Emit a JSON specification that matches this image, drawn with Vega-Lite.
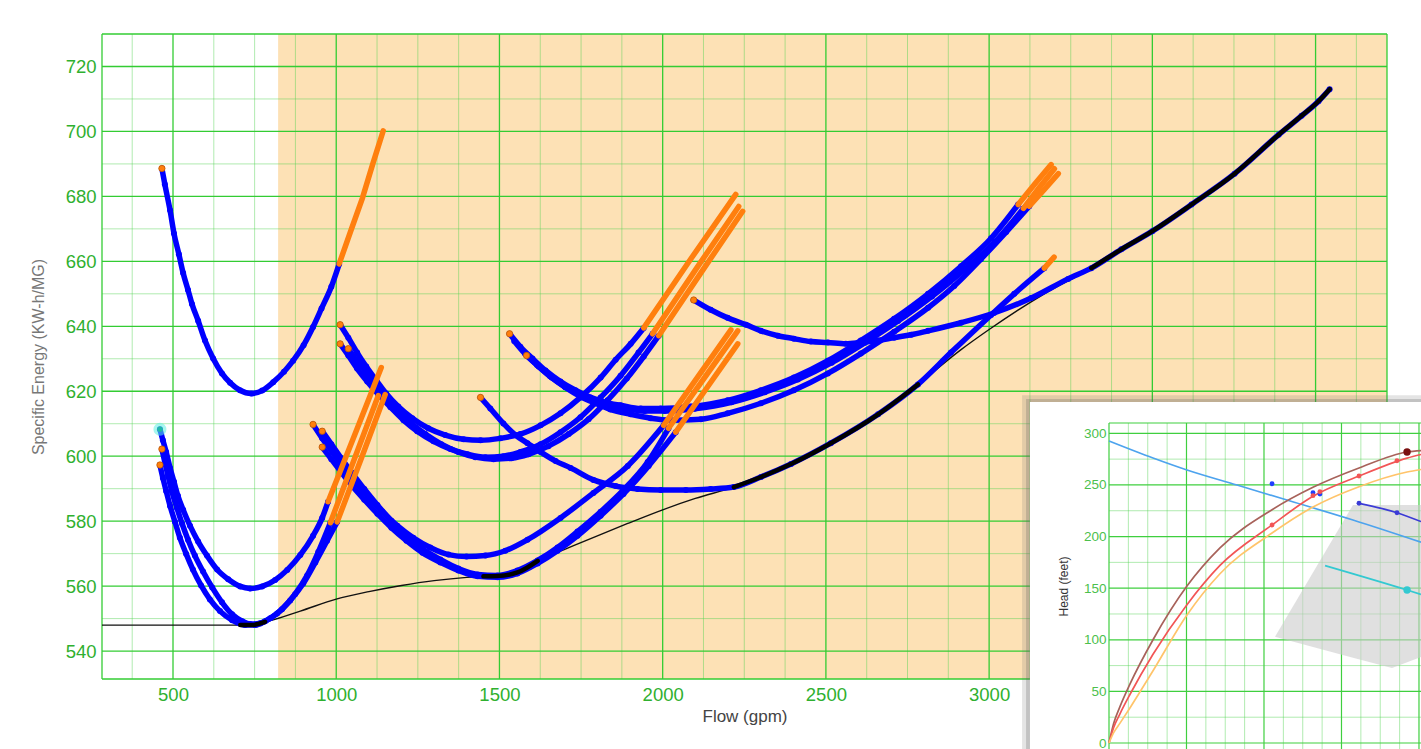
{
"$schema": "https://vega.github.io/schema/vega-lite/v6.json",
"width": 1285, "height": 645,
"autosize": {"type": "none"},
"padding": {"left": 102, "top": 34, "right": 34, "bottom": 70},
"background": "white",
"config": {"font": "Liberation Sans", "view": {"stroke": null}},
"datasets": {
"bg": [{"q": 822, "q2": 4218.8}],
"gxm": [{"q":375},{"q":625},{"q":750},{"q":875},{"q":1125},{"q":1250},{"q":1375},{"q":1625},{"q":1750},{"q":1875},{"q":2125},{"q":2250},{"q":2375},{"q":2625},{"q":2750},{"q":2875},{"q":3125},{"q":3250},{"q":3375},{"q":3625},{"q":3750},{"q":3875},{"q":4125}],
"gxM": [{"q":282.5},{"q":500},{"q":1000},{"q":1500},{"q":2000},{"q":2500},{"q":3000},{"q":3500},{"q":4000},{"q":4218.8}],
"gym": [{"e":550},{"e":570},{"e":590},{"e":610},{"e":630},{"e":650},{"e":670},{"e":690},{"e":710}],
"gyM": [{"e":531.4},{"e":540},{"e":560},{"e":580},{"e":600},{"e":620},{"e":640},{"e":660},{"e":680},{"e":700},{"e":720},{"e":730}],
"curves": [
{"c":"A","s":"b","q":466,"e":688.6},{"c":"A","s":"b","q":475,"e":683.7},{"c":"A","s":"b","q":491,"e":675.7},{"c":"A","s":"b","q":503,"e":668.6},{"c":"A","s":"b","q":518,"e":662.2},{"c":"A","s":"b","q":531,"e":656.4},{"c":"A","s":"b","q":546,"e":651.2},{"c":"A","s":"b","q":558,"e":646.9},{"c":"A","s":"b","q":577,"e":641.7},{"c":"A","s":"b","q":598,"e":635.6},{"c":"A","s":"b","q":623,"e":630.1},{"c":"A","s":"b","q":650,"e":625.5},{"c":"A","s":"b","q":675,"e":622.6},{"c":"A","s":"b","q":705,"e":620.3},{"c":"A","s":"b","q":740,"e":619.3},{"c":"A","s":"b","q":773,"e":620.2},{"c":"A","s":"b","q":807,"e":622.8},{"c":"A","s":"b","q":840,"e":626},{"c":"A","s":"b","q":868,"e":629.4},{"c":"A","s":"b","q":900,"e":634.2},{"c":"A","s":"b","q":929,"e":639.8},{"c":"A","s":"b","q":955,"e":645.5},{"c":"A","s":"b","q":985,"e":652.2},{"c":"A","s":"b","q":1009,"e":659.2},
{"c":"A","s":"o","q":1009,"e":659.2},{"c":"A","s":"o","q":1045,"e":669.5},{"c":"A","s":"o","q":1080,"e":679.4},{"c":"A","s":"o","q":1112,"e":690},{"c":"A","s":"o","q":1144,"e":700.2},
{"c":"B1","s":"b","q":460,"e":608.3},{"c":"B1","s":"b","q":469,"e":604.9},{"c":"B1","s":"b","q":479,"e":601.3},{"c":"B1","s":"b","q":491,"e":596.4},{"c":"B1","s":"b","q":503,"e":592.1},{"c":"B1","s":"b","q":515,"e":587.8},{"c":"B1","s":"b","q":531,"e":583.5},{"c":"B1","s":"b","q":552,"e":578.6},{"c":"B1","s":"b","q":577,"e":573.7},{"c":"B1","s":"b","q":604,"e":569.4},{"c":"B1","s":"b","q":635,"e":565.1},{"c":"B1","s":"b","q":669,"e":562.1},{"c":"B1","s":"b","q":706,"e":559.9},{"c":"B1","s":"b","q":736,"e":559.3},{"c":"B1","s":"b","q":773,"e":559.9},{"c":"B1","s":"b","q":813,"e":561.9},{"c":"B1","s":"b","q":850,"e":565},{"c":"B1","s":"b","q":890,"e":569.6},{"c":"B1","s":"b","q":929,"e":575.5},{"c":"B1","s":"b","q":957,"e":581},{"c":"B1","s":"b","q":975,"e":586},
{"c":"B1","s":"o","q":975,"e":586},{"c":"B1","s":"o","q":1057,"e":606.7},{"c":"B1","s":"o","q":1138,"e":627.3},
{"c":"B2","s":"b","q":466,"e":602.2},{"c":"B2","s":"b","q":475,"e":598.2},{"c":"B2","s":"b","q":485,"e":593.9},{"c":"B2","s":"b","q":497,"e":589},{"c":"B2","s":"b","q":512,"e":584.1},{"c":"B2","s":"b","q":528,"e":579.2},{"c":"B2","s":"b","q":546,"e":574.3},{"c":"B2","s":"b","q":567,"e":569.4},{"c":"B2","s":"b","q":592,"e":564.5},{"c":"B2","s":"b","q":620,"e":559.6},{"c":"B2","s":"b","q":650,"e":555},{"c":"B2","s":"b","q":681,"e":551.3},{"c":"B2","s":"b","q":712,"e":549.2},{"c":"B2","s":"b","q":736,"e":548.3},{"c":"B2","s":"b","q":767,"e":548.6},{"c":"B2","s":"b","q":798,"e":550.1},{"c":"B2","s":"b","q":834,"e":552.9},{"c":"B2","s":"b","q":874,"e":557.5},{"c":"B2","s":"b","q":911,"e":563.3},{"c":"B2","s":"b","q":945,"e":570.5},{"c":"B2","s":"b","q":982,"e":579.5},
{"c":"B2","s":"o","q":982,"e":579.5},{"c":"B2","s":"o","q":1055,"e":599},{"c":"B2","s":"o","q":1129,"e":618.7},
{"c":"B3","s":"b","q":460,"e":597.3},{"c":"B3","s":"b","q":469,"e":593.3},{"c":"B3","s":"b","q":479,"e":589.3},{"c":"B3","s":"b","q":491,"e":584.7},{"c":"B3","s":"b","q":506,"e":579.8},{"c":"B3","s":"b","q":521,"e":574.9},{"c":"B3","s":"b","q":540,"e":570},{"c":"B3","s":"b","q":561,"e":565.1},{"c":"B3","s":"b","q":586,"e":560.2},{"c":"B3","s":"b","q":613,"e":555.9},{"c":"B3","s":"b","q":644,"e":552.3},{"c":"B3","s":"b","q":681,"e":549.5},{"c":"B3","s":"b","q":721,"e":548},{"c":"B3","s":"b","q":752,"e":548},{"c":"B3","s":"b","q":782,"e":549.2},{"c":"B3","s":"b","q":819,"e":551.6},{"c":"B3","s":"b","q":859,"e":555.6},{"c":"B3","s":"b","q":899,"e":560.8},{"c":"B3","s":"b","q":936,"e":567.3},{"c":"B3","s":"b","q":972,"e":574},{"c":"B3","s":"b","q":1003,"e":579.8},
{"c":"B3","s":"o","q":1003,"e":579.8},{"c":"B3","s":"o","q":1077,"e":599.4},{"c":"B3","s":"o","q":1150,"e":619},
{"c":"C1","s":"b","q":1012,"e":640.5},{"c":"C1","s":"b","q":1037,"e":636.5},{"c":"C1","s":"b","q":1064,"e":631.9},{"c":"C1","s":"b","q":1092,"e":627.6},{"c":"C1","s":"b","q":1123,"e":623.3},{"c":"C1","s":"b","q":1153,"e":619.3},{"c":"C1","s":"b","q":1190,"e":615.3},{"c":"C1","s":"b","q":1233,"e":611.7},{"c":"C1","s":"b","q":1282,"e":608.6},{"c":"C1","s":"b","q":1334,"e":606.5},{"c":"C1","s":"b","q":1390,"e":605.2},{"c":"C1","s":"b","q":1442,"e":604.9},{"c":"C1","s":"b","q":1503,"e":605.5},{"c":"C1","s":"b","q":1564,"e":606.8},{"c":"C1","s":"b","q":1626,"e":609.5},{"c":"C1","s":"b","q":1687,"e":613.2},{"c":"C1","s":"b","q":1748,"e":618.1},{"c":"C1","s":"b","q":1810,"e":624.2},{"c":"C1","s":"b","q":1856,"e":629.7},{"c":"C1","s":"b","q":1902,"e":634.6},{"c":"C1","s":"b","q":1942,"e":639.5},
{"c":"C1","s":"o","q":1942,"e":639.5},{"c":"C1","s":"o","q":2086,"e":660.7},{"c":"C1","s":"o","q":2224,"e":680.6},
{"c":"C2","s":"b","q":1012,"e":634.6},{"c":"C2","s":"b","q":1037,"e":631},{"c":"C2","s":"b","q":1064,"e":627},{"c":"C2","s":"b","q":1095,"e":623},{"c":"C2","s":"b","q":1129,"e":619},{"c":"C2","s":"b","q":1166,"e":615.1},{"c":"C2","s":"b","q":1206,"e":611.1},{"c":"C2","s":"b","q":1248,"e":607.7},{"c":"C2","s":"b","q":1298,"e":604.6},{"c":"C2","s":"b","q":1350,"e":602.2},{"c":"C2","s":"b","q":1402,"e":600.6},{"c":"C2","s":"b","q":1457,"e":599.7},{"c":"C2","s":"b","q":1512,"e":600},{"c":"C2","s":"b","q":1564,"e":601.3},{"c":"C2","s":"b","q":1626,"e":603.7},{"c":"C2","s":"b","q":1687,"e":607.4},{"c":"C2","s":"b","q":1748,"e":612},{"c":"C2","s":"b","q":1810,"e":618.1},{"c":"C2","s":"b","q":1871,"e":624.8},{"c":"C2","s":"b","q":1926,"e":631.9},{"c":"C2","s":"b","q":1969,"e":637.7},
{"c":"C2","s":"o","q":1969,"e":637.7},{"c":"C2","s":"o","q":2100,"e":657.3},{"c":"C2","s":"o","q":2233,"e":676.9},
{"c":"C3","s":"b","q":1037,"e":633.1},{"c":"C3","s":"b","q":1061,"e":629.7},{"c":"C3","s":"b","q":1089,"e":626.1},{"c":"C3","s":"b","q":1120,"e":622.1},{"c":"C3","s":"b","q":1153,"e":618.1},{"c":"C3","s":"b","q":1190,"e":614.1},{"c":"C3","s":"b","q":1230,"e":610.1},{"c":"C3","s":"b","q":1273,"e":606.8},{"c":"C3","s":"b","q":1322,"e":603.7},{"c":"C3","s":"b","q":1374,"e":601.3},{"c":"C3","s":"b","q":1426,"e":599.7},{"c":"C3","s":"b","q":1482,"e":599.1},{"c":"C3","s":"b","q":1537,"e":599.4},{"c":"C3","s":"b","q":1589,"e":600.6},{"c":"C3","s":"b","q":1650,"e":603.1},{"c":"C3","s":"b","q":1712,"e":606.8},{"c":"C3","s":"b","q":1773,"e":611.4},{"c":"C3","s":"b","q":1831,"e":617.2},{"c":"C3","s":"b","q":1890,"e":623.9},{"c":"C3","s":"b","q":1942,"e":630.7},{"c":"C3","s":"b","q":1988,"e":637.1},
{"c":"C3","s":"o","q":1988,"e":637.1},{"c":"C3","s":"o","q":2116,"e":656.3},{"c":"C3","s":"o","q":2245,"e":675.4},
{"c":"D1","s":"b","q":929,"e":609.8},{"c":"D1","s":"b","q":957,"e":605.5},{"c":"D1","s":"b","q":988,"e":601.3},{"c":"D1","s":"b","q":1021,"e":596.7},{"c":"D1","s":"b","q":1058,"e":592.1},{"c":"D1","s":"b","q":1098,"e":587.5},{"c":"D1","s":"b","q":1141,"e":582.9},{"c":"D1","s":"b","q":1187,"e":578.6},{"c":"D1","s":"b","q":1236,"e":574.9},{"c":"D1","s":"b","q":1288,"e":571.9},{"c":"D1","s":"b","q":1344,"e":569.7},{"c":"D1","s":"b","q":1399,"e":569.1},{"c":"D1","s":"b","q":1457,"e":569.4},{"c":"D1","s":"b","q":1518,"e":570.9},{"c":"D1","s":"b","q":1586,"e":574.3},{"c":"D1","s":"b","q":1687,"e":581},{"c":"D1","s":"b","q":1788,"e":588.7},{"c":"D1","s":"b","q":1893,"e":597},{"c":"D1","s":"b","q":2003,"e":609.5},
{"c":"D1","s":"o","q":2003,"e":609.5},{"c":"D1","s":"o","q":2106,"e":624.2},{"c":"D1","s":"o","q":2209,"e":638.9},
{"c":"D2","s":"b","q":957,"e":607.7},{"c":"D2","s":"b","q":985,"e":603.7},{"c":"D2","s":"b","q":1015,"e":599.4},{"c":"D2","s":"b","q":1049,"e":594.8},{"c":"D2","s":"b","q":1086,"e":589.9},{"c":"D2","s":"b","q":1126,"e":585},{"c":"D2","s":"b","q":1169,"e":580.1},{"c":"D2","s":"b","q":1215,"e":575.5},{"c":"D2","s":"b","q":1264,"e":571.5},{"c":"D2","s":"b","q":1319,"e":568.2},{"c":"D2","s":"b","q":1374,"e":565.4},{"c":"D2","s":"b","q":1433,"e":563.6},{"c":"D2","s":"b","q":1494,"e":563.3},{"c":"D2","s":"b","q":1555,"e":564.8},{"c":"D2","s":"b","q":1617,"e":567.9},{"c":"D2","s":"b","q":1678,"e":571.9},{"c":"D2","s":"b","q":1739,"e":576.8},{"c":"D2","s":"b","q":1810,"e":582.9},{"c":"D2","s":"b","q":1880,"e":589.6},{"c":"D2","s":"b","q":1954,"e":598.2},{"c":"D2","s":"b","q":2018,"e":608.6},
{"c":"D2","s":"o","q":2018,"e":608.6},{"c":"D2","s":"o","q":2124,"e":623.6},{"c":"D2","s":"o","q":2230,"e":638.6},
{"c":"D3","s":"b","q":957,"e":602.8},{"c":"D3","s":"b","q":985,"e":599.1},{"c":"D3","s":"b","q":1015,"e":595.1},{"c":"D3","s":"b","q":1049,"e":590.8},{"c":"D3","s":"b","q":1086,"e":586.6},{"c":"D3","s":"b","q":1126,"e":582.3},{"c":"D3","s":"b","q":1169,"e":578},{"c":"D3","s":"b","q":1215,"e":574},{"c":"D3","s":"b","q":1264,"e":570.3},{"c":"D3","s":"b","q":1319,"e":567.3},{"c":"D3","s":"b","q":1374,"e":564.8},{"c":"D3","s":"b","q":1433,"e":563},{"c":"D3","s":"b","q":1494,"e":562.7},{"c":"D3","s":"b","q":1555,"e":563.9},{"c":"D3","s":"b","q":1617,"e":567},{"c":"D3","s":"b","q":1678,"e":570.9},{"c":"D3","s":"b","q":1739,"e":575.5},{"c":"D3","s":"b","q":1810,"e":581.7},{"c":"D3","s":"b","q":1880,"e":588.4},{"c":"D3","s":"b","q":1957,"e":597},{"c":"D3","s":"b","q":2040,"e":607.4},
{"c":"D3","s":"o","q":2040,"e":607.4},{"c":"D3","s":"o","q":2135,"e":621},{"c":"D3","s":"o","q":2230,"e":634.6},
{"c":"E1","s":"b","q":1531,"e":637.7},{"c":"E1","s":"b","q":1564,"e":633.7},{"c":"E1","s":"b","q":1601,"e":630.1},{"c":"E1","s":"b","q":1641,"e":626.4},{"c":"E1","s":"b","q":1687,"e":623},{"c":"E1","s":"b","q":1733,"e":620.3},{"c":"E1","s":"b","q":1779,"e":618.1},{"c":"E1","s":"b","q":1825,"e":616.6},{"c":"E1","s":"b","q":1871,"e":615.7},{"c":"E1","s":"b","q":1933,"e":614.7},{"c":"E1","s":"b","q":1994,"e":614.7},{"c":"E1","s":"b","q":2086,"e":615.3},{"c":"E1","s":"b","q":2199,"e":617.2},{"c":"E1","s":"b","q":2301,"e":620.3},{"c":"E1","s":"b","q":2402,"e":624.2},{"c":"E1","s":"b","q":2506,"e":629.4},{"c":"E1","s":"b","q":2607,"e":635.6},{"c":"E1","s":"b","q":2709,"e":642.3},{"c":"E1","s":"b","q":2813,"e":650},{"c":"E1","s":"b","q":2914,"e":658.5},{"c":"E1","s":"b","q":3006,"e":667.1},{"c":"E1","s":"b","q":3089,"e":677.5},
{"c":"E1","s":"o","q":3089,"e":677.5},{"c":"E1","s":"o","q":3138,"e":683.6},{"c":"E1","s":"o","q":3190,"e":689.8},
{"c":"E1b","s":"b","q":1545,"e":635.5},{"c":"E1b","s":"b","q":1578,"e":631.6},{"c":"E1b","s":"b","q":1615,"e":628.1},{"c":"E1b","s":"b","q":1655,"e":624.6},{"c":"E1b","s":"b","q":1700,"e":621.4},{"c":"E1b","s":"b","q":1746,"e":618.9},{"c":"E1b","s":"b","q":1792,"e":616.9},{"c":"E1b","s":"b","q":1838,"e":615.5},{"c":"E1b","s":"b","q":1884,"e":614.7},{"c":"E1b","s":"b","q":1945,"e":613.9},{"c":"E1b","s":"b","q":2006,"e":613.9},{"c":"E1b","s":"b","q":2098,"e":614.6},{"c":"E1b","s":"b","q":2211,"e":616.6},{"c":"E1b","s":"b","q":2313,"e":619.7},{"c":"E1b","s":"b","q":2414,"e":623.6},{"c":"E1b","s":"b","q":2518,"e":628.8},{"c":"E1b","s":"b","q":2619,"e":634.9},{"c":"E1b","s":"b","q":2721,"e":641.6},{"c":"E1b","s":"b","q":2825,"e":649.2},{"c":"E1b","s":"b","q":2926,"e":657.6},{"c":"E1b","s":"b","q":3018,"e":666},{"c":"E1b","s":"b","q":3105,"e":676.3},
{"c":"E1b","s":"o","q":3105,"e":676.3},{"c":"E1b","s":"o","q":3152,"e":682.5},{"c":"E1b","s":"o","q":3200,"e":688.5},
{"c":"E2","s":"b","q":1583,"e":631},{"c":"E2","s":"b","q":1620,"e":627.6},{"c":"E2","s":"b","q":1660,"e":624.2},{"c":"E2","s":"b","q":1702,"e":621.2},{"c":"E2","s":"b","q":1748,"e":618.4},{"c":"E2","s":"b","q":1794,"e":616.3},{"c":"E2","s":"b","q":1840,"e":614.4},{"c":"E2","s":"b","q":1902,"e":612.9},{"c":"E2","s":"b","q":1963,"e":611.7},{"c":"E2","s":"b","q":2025,"e":611.1},{"c":"E2","s":"b","q":2117,"e":611.4},{"c":"E2","s":"b","q":2199,"e":613.2},{"c":"E2","s":"b","q":2301,"e":616.3},{"c":"E2","s":"b","q":2402,"e":620.3},{"c":"E2","s":"b","q":2506,"e":625.5},{"c":"E2","s":"b","q":2607,"e":631.6},{"c":"E2","s":"b","q":2709,"e":638.3},{"c":"E2","s":"b","q":2813,"e":645.7},{"c":"E2","s":"b","q":2893,"e":652.4},{"c":"E2","s":"b","q":2975,"e":660.7},{"c":"E2","s":"b","q":3052,"e":669},{"c":"E2","s":"b","q":3123,"e":677},
{"c":"E2","s":"o","q":3123,"e":677},{"c":"E2","s":"o","q":3168,"e":682},{"c":"E2","s":"o","q":3212,"e":687},
{"c":"F","s":"b","q":1442,"e":618.1},{"c":"F","s":"b","q":1472,"e":614.7},{"c":"F","s":"b","q":1512,"e":610.1},{"c":"F","s":"b","q":1549,"e":606.5},{"c":"F","s":"b","q":1586,"e":604},{"c":"F","s":"b","q":1626,"e":601.3},{"c":"F","s":"b","q":1672,"e":598.5},{"c":"F","s":"b","q":1718,"e":596.4},{"c":"F","s":"b","q":1788,"e":592.7},{"c":"F","s":"b","q":1856,"e":590.8},{"c":"F","s":"b","q":1923,"e":589.9},{"c":"F","s":"b","q":1994,"e":589.6},{"c":"F","s":"b","q":2071,"e":589.6},{"c":"F","s":"b","q":2147,"e":589.9},{"c":"F","s":"b","q":2218,"e":590.5},{"c":"F","s":"b","q":2301,"e":593.6},{"c":"F","s":"b","q":2393,"e":597.6},{"c":"F","s":"b","q":2515,"e":604},{"c":"F","s":"b","q":2660,"e":612.9},{"c":"F","s":"b","q":2782,"e":622.1},{"c":"F","s":"b","q":2883,"e":631.9},{"c":"F","s":"b","q":3006,"e":643.5},{"c":"F","s":"b","q":3077,"e":650},{"c":"F","s":"b","q":3169,"e":657.9},
{"c":"F","s":"o","q":3169,"e":657.9},{"c":"F","s":"o","q":3199,"e":661.3},
{"c":"G","s":"b","q":2095,"e":648.1},{"c":"G","s":"b","q":2147,"e":645.1},{"c":"G","s":"b","q":2199,"e":642.6},{"c":"G","s":"b","q":2255,"e":640.5},{"c":"G","s":"b","q":2301,"e":638.6},{"c":"G","s":"b","q":2353,"e":637.1},{"c":"G","s":"b","q":2402,"e":636.2},{"c":"G","s":"b","q":2454,"e":635.3},{"c":"G","s":"b","q":2506,"e":635},{"c":"G","s":"b","q":2561,"e":634.6},{"c":"G","s":"b","q":2607,"e":635},{"c":"G","s":"b","q":2660,"e":635.6},{"c":"G","s":"b","q":2709,"e":636.5},{"c":"G","s":"b","q":2761,"e":637.4},{"c":"G","s":"b","q":2813,"e":638.6},{"c":"G","s":"b","q":2914,"e":641.1},{"c":"G","s":"b","q":3015,"e":644.1},{"c":"G","s":"b","q":3129,"e":648.7},{"c":"G","s":"b","q":3242,"e":654.6},{"c":"G","s":"b","q":3313,"e":657.9},{"c":"G","s":"b","q":3405,"e":663.7},{"c":"G","s":"b","q":3500,"e":669.3},{"c":"G","s":"b","q":3620,"e":677.5},{"c":"G","s":"b","q":3752,"e":687},{"c":"G","s":"b","q":3887,"e":699},{"c":"G","s":"b","q":3957,"e":704.8},{"c":"G","s":"b","q":4009,"e":709.3},{"c":"G","s":"b","q":4043,"e":713}
],
"env": [{"q":282.5,"e":548},{"q":721,"e":548},{"q":791,"e":549.2},{"q":890,"e":552.3},{"q":1000,"e":556},{"q":1100,"e":558.3},{"q":1200,"e":560.2},{"q":1300,"e":561.7},{"q":1400,"e":562.7},{"q":1451,"e":563},{"q":1494,"e":563.1},{"q":1555,"e":564.2},{"q":1617,"e":567.8},{"q":1700,"e":571.3},{"q":1800,"e":575.5},{"q":1893,"e":579.3},{"q":2000,"e":583.5},{"q":2100,"e":587},{"q":2218,"e":590.5},{"q":2301,"e":593.6},{"q":2393,"e":597.6},{"q":2515,"e":604},{"q":2660,"e":612.9},{"q":2782,"e":622.1},{"q":2914,"e":632.8},{"q":3000,"e":639},{"q":3169,"e":650},{"q":3313,"e":657.9},{"q":3405,"e":663.7},{"q":3500,"e":669.3},{"q":3620,"e":677.5},{"q":3752,"e":687},{"q":3887,"e":699},{"q":3957,"e":704.8},{"q":4009,"e":709.3},{"q":4043,"e":713}],
"envk": [{"g":"K1","q":706,"e":548},{"g":"K1","q":740,"e":548},{"g":"K1","q":782,"e":549},
{"g":"K2","q":1451,"e":563},{"g":"K2","q":1494,"e":563.1},{"g":"K2","q":1555,"e":564.2},{"g":"K2","q":1617,"e":567.8},
{"g":"K3","q":2218,"e":590.5},{"g":"K3","q":2301,"e":593.6},{"g":"K3","q":2393,"e":597.6},{"g":"K3","q":2515,"e":604},{"g":"K3","q":2660,"e":612.9},{"g":"K3","q":2782,"e":622.1},
{"g":"K4","q":3313,"e":657.9},{"g":"K4","q":3405,"e":663.7},{"g":"K4","q":3500,"e":669.3},{"g":"K4","q":3620,"e":677.5},{"g":"K4","q":3752,"e":687},{"g":"K4","q":3887,"e":699},{"g":"K4","q":3957,"e":704.8},{"g":"K4","q":4009,"e":709.3},{"g":"K4","q":4043,"e":713}],
"starts": [{"q":466,"e":688.6},{"q":466,"e":602.2},{"q":460,"e":597.3},{"q":1012,"e":640.5},{"q":1012,"e":634.6},{"q":1037,"e":633.1},{"q":929,"e":609.8},{"q":957,"e":607.7},{"q":957,"e":602.8},{"q":1531,"e":637.7},{"q":1583,"e":631},{"q":1442,"e":618.1},{"q":2095,"e":648.1}],
"hl": [{"q":460,"e":608.3}],
"ishadow1": [{"ix":-561,"ix2":2013,"iy":-5.8,"iy2":337}],
"ishadow2": [{"ix":-535,"ix2":2013,"iy":-5.8,"iy2":333.2}],
"iwhite": [{"ix":-510,"ix2":2013,"iy":-5.8,"iy2":330.3}],
"ivm": [{"ix":125},{"ix":250},{"ix":375},{"ix":625},{"ix":750},{"ix":875},{"ix":1125},{"ix":1250},{"ix":1375},{"ix":1625},{"ix":1750},{"ix":1875}],
"ivM": [{"ix":0},{"ix":500},{"ix":1000},{"ix":1500},{"ix":2000}],
"ihm": [{"iy":25},{"iy":75},{"iy":125},{"iy":175},{"iy":225},{"iy":275}],
"ihM": [{"iy":0},{"iy":50},{"iy":100},{"iy":150},{"iy":200},{"iy":250},{"iy":300},{"iy":310}],
"ipoly": [{"ix":1071,"iy":103,"iy2":103},{"ix":1574,"iy":230.6,"iy2":82.6},{"ix":1826,"iy":230.6,"iy2":72.7},{"ix":2013,"iy":230.6,"iy2":83.3}],
"icur": [
{"k":"lb","ix":0,"iy":292.6},{"k":"lb","ix":284,"iy":276.1},{"k":"lb","ix":503,"iy":264.5},{"k":"lb","ix":826,"iy":249.9},{"k":"lb","ix":1148,"iy":235.4},{"k":"lb","ix":1574,"iy":216},{"k":"lb","ix":2013,"iy":194.5},
{"k":"br","ix":0,"iy":0},{"k":"br","ix":30,"iy":19},{"k":"br","ix":70,"iy":35},{"k":"br","ix":135,"iy":57},{"k":"br","ix":284,"iy":100},{"k":"br","ix":503,"iy":152},{"k":"br","ix":716,"iy":189},{"k":"br","ix":1052,"iy":226},{"k":"br","ix":1316,"iy":247.7},{"k":"br","ix":1613,"iy":266.4},{"k":"br","ix":1923,"iy":281.9},{"k":"br","ix":2013,"iy":283.3},
{"k":"rd","ix":0,"iy":0},{"k":"rd","ix":30,"iy":15},{"k":"rd","ix":70,"iy":28},{"k":"rd","ix":135,"iy":47},{"k":"rd","ix":284,"iy":86},{"k":"rd","ix":503,"iy":134},{"k":"rd","ix":716,"iy":172},{"k":"rd","ix":1052,"iy":211.2},{"k":"rd","ix":1316,"iy":239},{"k":"rd","ix":1613,"iy":258.6},{"k":"rd","ix":1923,"iy":276},{"k":"rd","ix":2013,"iy":279.5},
{"k":"or","ix":0,"iy":0},{"k":"or","ix":30,"iy":10},{"k":"or","ix":70,"iy":19},{"k":"or","ix":135,"iy":34},{"k":"or","ix":284,"iy":70},{"k":"or","ix":503,"iy":124},{"k":"or","ix":716,"iy":164},{"k":"or","ix":1052,"iy":203.4},{"k":"or","ix":1316,"iy":228.6},{"k":"or","ix":1613,"iy":248.3},{"k":"or","ix":1923,"iy":262.5},{"k":"or","ix":2013,"iy":265},
{"k":"db","ix":1613,"iy":232.2},{"k":"db","ix":1858,"iy":223.1},{"k":"db","ix":2013,"iy":214.5},
{"k":"cy","ix":1394,"iy":171.8},{"k":"cy","ix":1923,"iy":148.2},{"k":"cy","ix":2013,"iy":144}
],
"idot": [{"k":"bd","ix":1052,"iy":251.2},{"k":"bd","ix":1316,"iy":242.5},{"k":"bd","ix":1361,"iy":241.2},
{"k":"rd","ix":1052,"iy":211.2},{"k":"rd","ix":1316,"iy":239.6},{"k":"rd","ix":1361,"iy":243.4},{"k":"rd","ix":1613,"iy":258.6},{"k":"rd","ix":1858,"iy":273.5},
{"k":"db","ix":1613,"iy":232.2},{"k":"db","ix":1858,"iy":223.1}],
"ibig": [{"k":"dr","ix":1923,"iy":281.9},{"k":"cy","ix":1923,"iy":148.2}]
},
"layer": [
{
"layer": [
{"data": {"name": "bg"}, "mark": {"type": "rect", "color": "#fde1b5"},
 "encoding": {
  "x": {"field": "q", "type": "quantitative", "scale": {"domain": [282.5, 4218.8], "nice": false, "zero": false},
   "axis": {"title": "Flow (gpm)", "values": [500,1000,1500,2000,2500,3000,3500,4000], "format": "d", "grid": false, "ticks": false, "domain": false, "labelColor": "#2fb02f", "labelFontSize": 18.5, "labelPadding": 6, "titleFontSize": 17, "titleFontWeight": "normal", "titleColor": "#444", "titlePadding": 5}},
  "x2": {"field": "q2"}}},
{"data": {"name": "gxm"}, "mark": {"type": "rule", "color": "#4fd24f", "opacity": 0.45, "strokeWidth": 1},
 "encoding": {"x": {"field": "q", "type": "quantitative", "scale": {"domain": [282.5, 4218.8], "nice": false, "zero": false}}}},
{"data": {"name": "gym"}, "mark": {"type": "rule", "color": "#4fd24f", "opacity": 0.45, "strokeWidth": 1},
 "encoding": {"y": {"field": "e", "type": "quantitative", "scale": {"domain": [531.4, 730], "nice": false, "zero": false}}}},
{"data": {"name": "gxM"}, "mark": {"type": "rule", "color": "#33cc33", "strokeWidth": 1.3},
 "encoding": {"x": {"field": "q", "type": "quantitative", "scale": {"domain": [282.5, 4218.8], "nice": false, "zero": false}}}},
{"data": {"name": "gyM"}, "mark": {"type": "rule", "color": "#33cc33", "strokeWidth": 1.3},
 "encoding": {"y": {"field": "e", "type": "quantitative", "scale": {"domain": [531.4, 730], "nice": false, "zero": false},
   "axis": {"title": "Specific Energy (KW-h/MG)", "values": [540,560,580,600,620,640,660,680,700,720], "grid": false, "ticks": false, "domain": false, "labelColor": "#2fb02f", "labelFontSize": 18.5, "labelPadding": 6, "titleFontSize": 16, "titleFontWeight": "normal", "titleColor": "#777", "titlePadding": 19}}}},
{"data": {"name": "env"}, "mark": {"type": "line", "color": "#111111", "strokeWidth": 1.4, "interpolate": "monotone"},
 "encoding": {"x": {"field": "q", "type": "quantitative", "scale": {"domain": [282.5, 4218.8], "nice": false, "zero": false}},
  "y": {"field": "e", "type": "quantitative", "scale": {"domain": [531.4, 730], "nice": false, "zero": false}}}},
{"data": {"name": "curves"}, "transform": [{"filter": "datum.s == 'b'"}], "mark": {"type": "line", "color": "#0000ff", "strokeWidth": 5.5, "interpolate": "monotone"},
 "encoding": {"x": {"field": "q", "type": "quantitative", "scale": {"domain": [282.5, 4218.8], "nice": false, "zero": false}},
  "y": {"field": "e", "type": "quantitative", "scale": {"domain": [531.4, 730], "nice": false, "zero": false}},
  "detail": {"field": "c"}}},
{"data": {"name": "curves"}, "transform": [{"filter": "datum.s == 'b'"}], "mark": {"type": "point", "filled": true, "color": "#0000ff", "size": 36, "opacity": 1},
 "encoding": {"x": {"field": "q", "type": "quantitative", "scale": {"domain": [282.5, 4218.8], "nice": false, "zero": false}},
  "y": {"field": "e", "type": "quantitative", "scale": {"domain": [531.4, 730], "nice": false, "zero": false}}}},
{"data": {"name": "envk"}, "mark": {"type": "line", "color": "#000000", "strokeWidth": 4.5, "interpolate": "monotone", "strokeCap": "round"},
 "encoding": {"x": {"field": "q", "type": "quantitative", "scale": {"domain": [282.5, 4218.8], "nice": false, "zero": false}},
  "y": {"field": "e", "type": "quantitative", "scale": {"domain": [531.4, 730], "nice": false, "zero": false}},
  "detail": {"field": "g"}}},
{"data": {"name": "curves"}, "transform": [{"filter": "datum.s == 'o'"}], "mark": {"type": "line", "color": "#ff7f0e", "strokeWidth": 5.5, "strokeCap": "round"},
 "encoding": {"x": {"field": "q", "type": "quantitative", "scale": {"domain": [282.5, 4218.8], "nice": false, "zero": false}},
  "y": {"field": "e", "type": "quantitative", "scale": {"domain": [531.4, 730], "nice": false, "zero": false}},
  "detail": {"field": "c"}}},
{"data": {"name": "starts"}, "mark": {"type": "point", "filled": true, "color": "#ff7f0e", "stroke": "#c05a00", "strokeWidth": 0.8, "size": 40, "opacity": 1},
 "encoding": {"x": {"field": "q", "type": "quantitative", "scale": {"domain": [282.5, 4218.8], "nice": false, "zero": false}},
  "y": {"field": "e", "type": "quantitative", "scale": {"domain": [531.4, 730], "nice": false, "zero": false}}}},
{"data": {"name": "hl"}, "mark": {"type": "point", "filled": true, "color": "#5ff0e0", "size": 170, "opacity": 0.55},
 "encoding": {"x": {"field": "q", "type": "quantitative", "scale": {"domain": [282.5, 4218.8], "nice": false, "zero": false}},
  "y": {"field": "e", "type": "quantitative", "scale": {"domain": [531.4, 730], "nice": false, "zero": false}}}},
{"data": {"name": "hl"}, "mark": {"type": "point", "filled": true, "color": "#20b8a8", "size": 30, "opacity": 1},
 "encoding": {"x": {"field": "q", "type": "quantitative", "scale": {"domain": [282.5, 4218.8], "nice": false, "zero": false}},
  "y": {"field": "e", "type": "quantitative", "scale": {"domain": [531.4, 730], "nice": false, "zero": false}}}}
]
},
{
"layer": [
{"data": {"name": "ishadow1"}, "mark": {"type": "rect", "color": "#6a6a6a", "opacity": 0.18},
 "encoding": {
  "x": {"field": "ix", "type": "quantitative", "scale": {"domain": [0, 2013], "range": [1007, 1319], "nice": false, "zero": false}, "axis": null},
  "x2": {"field": "ix2"},
  "y": {"field": "iy", "type": "quantitative", "scale": {"domain": [-5.8, 310], "range": [715, 389], "nice": false, "zero": false},
   "axis": {"orient": "left", "offset": -1007, "values": [0,50,100,150,200,250,300], "grid": false, "ticks": false, "domain": false, "labelColor": "#4cbf4c", "labelFontSize": 13.5, "labelPadding": 3, "title": "Head (feet)", "titleFontSize": 12, "titleFontWeight": "normal", "titleColor": "#333", "titlePadding": 13, "zindex": 1}},
  "y2": {"field": "iy2"}}},
{"data": {"name": "ishadow2"}, "mark": {"type": "rect", "color": "#5a5a5a", "opacity": 0.25},
 "encoding": {
  "x": {"field": "ix", "type": "quantitative", "scale": {"domain": [0, 2013], "range": [1007, 1319], "nice": false, "zero": false}, "axis": null},
  "x2": {"field": "ix2"},
  "y": {"field": "iy", "type": "quantitative", "scale": {"domain": [-5.8, 310], "range": [715, 389], "nice": false, "zero": false}},
  "y2": {"field": "iy2"}}},
{"data": {"name": "iwhite"}, "mark": {"type": "rect", "color": "#ffffff", "opacity": 1},
 "encoding": {
  "x": {"field": "ix", "type": "quantitative", "scale": {"domain": [0, 2013], "range": [1007, 1319], "nice": false, "zero": false}, "axis": null},
  "x2": {"field": "ix2"},
  "y": {"field": "iy", "type": "quantitative", "scale": {"domain": [-5.8, 310], "range": [715, 389], "nice": false, "zero": false}},
  "y2": {"field": "iy2"}}},
{"data": {"name": "ivm"}, "mark": {"type": "rule", "color": "#4fd24f", "opacity": 0.45, "strokeWidth": 1},
 "encoding": {
  "x": {"field": "ix", "type": "quantitative", "scale": {"domain": [0, 2013], "range": [1007, 1319], "nice": false, "zero": false}, "axis": null},
  "y": {"datum": -5.8, "type": "quantitative", "scale": {"domain": [-5.8, 310], "range": [715, 389], "nice": false, "zero": false}},
  "y2": {"datum": 310}}},
{"data": {"name": "ihm"}, "mark": {"type": "rule", "color": "#4fd24f", "opacity": 0.45, "strokeWidth": 1},
 "encoding": {
  "y": {"field": "iy", "type": "quantitative", "scale": {"domain": [-5.8, 310], "range": [715, 389], "nice": false, "zero": false}},
  "x": {"datum": 0, "type": "quantitative", "scale": {"domain": [0, 2013], "range": [1007, 1319], "nice": false, "zero": false}, "axis": null},
  "x2": {"datum": 2013}}},
{"data": {"name": "ivM"}, "mark": {"type": "rule", "color": "#3fcf3f", "strokeWidth": 1.2},
 "encoding": {
  "x": {"field": "ix", "type": "quantitative", "scale": {"domain": [0, 2013], "range": [1007, 1319], "nice": false, "zero": false}, "axis": null},
  "y": {"datum": -5.8, "type": "quantitative", "scale": {"domain": [-5.8, 310], "range": [715, 389], "nice": false, "zero": false}},
  "y2": {"datum": 310}}},
{"data": {"name": "ihM"}, "mark": {"type": "rule", "color": "#3fcf3f", "strokeWidth": 1.2},
 "encoding": {
  "y": {"field": "iy", "type": "quantitative", "scale": {"domain": [-5.8, 310], "range": [715, 389], "nice": false, "zero": false}},
  "x": {"datum": 0, "type": "quantitative", "scale": {"domain": [0, 2013], "range": [1007, 1319], "nice": false, "zero": false}, "axis": null},
  "x2": {"datum": 2013}}},
{"data": {"name": "ipoly"}, "mark": {"type": "area", "color": "#cccccc", "opacity": 0.6},
 "encoding": {
  "x": {"field": "ix", "type": "quantitative", "scale": {"domain": [0, 2013], "range": [1007, 1319], "nice": false, "zero": false}, "axis": null},
  "y": {"field": "iy", "type": "quantitative", "scale": {"domain": [-5.8, 310], "range": [715, 389], "nice": false, "zero": false}},
  "y2": {"field": "iy2"}}},
{"data": {"name": "icur"}, "mark": {"type": "line", "strokeWidth": 1.7, "interpolate": "monotone"},
 "encoding": {
  "x": {"field": "ix", "type": "quantitative", "scale": {"domain": [0, 2013], "range": [1007, 1319], "nice": false, "zero": false}, "axis": null},
  "y": {"field": "iy", "type": "quantitative", "scale": {"domain": [-5.8, 310], "range": [715, 389], "nice": false, "zero": false}},
  "color": {"field": "k", "type": "nominal", "legend": null, "scale": {"domain": ["lb","br","rd","or","db","cy","bd","dr"], "range": ["#4da3ee","#a8625a","#f25555","#ffc46a","#3b3bd6","#33c9d1","#1f3fff","#7a1010"]}}}},
{"data": {"name": "idot"}, "mark": {"type": "point", "filled": true, "size": 24, "opacity": 1},
 "encoding": {
  "x": {"field": "ix", "type": "quantitative", "scale": {"domain": [0, 2013], "range": [1007, 1319], "nice": false, "zero": false}, "axis": null},
  "y": {"field": "iy", "type": "quantitative", "scale": {"domain": [-5.8, 310], "range": [715, 389], "nice": false, "zero": false}},
  "color": {"field": "k", "type": "nominal", "legend": null, "scale": {"domain": ["lb","br","rd","or","db","cy","bd","dr"], "range": ["#4da3ee","#a8625a","#f25555","#ffc46a","#3b3bd6","#33c9d1","#1f3fff","#7a1010"]}}}},
{"data": {"name": "ibig"}, "mark": {"type": "point", "filled": true, "size": 55, "opacity": 1},
 "encoding": {
  "x": {"field": "ix", "type": "quantitative", "scale": {"domain": [0, 2013], "range": [1007, 1319], "nice": false, "zero": false}, "axis": null},
  "y": {"field": "iy", "type": "quantitative", "scale": {"domain": [-5.8, 310], "range": [715, 389], "nice": false, "zero": false}},
  "color": {"field": "k", "type": "nominal", "legend": null, "scale": {"domain": ["lb","br","rd","or","db","cy","bd","dr"], "range": ["#4da3ee","#a8625a","#f25555","#ffc46a","#3b3bd6","#33c9d1","#1f3fff","#7a1010"]}}}}
]
}
],
"resolve": {"scale": {"x": "independent", "y": "independent", "color": "independent"}}
}
